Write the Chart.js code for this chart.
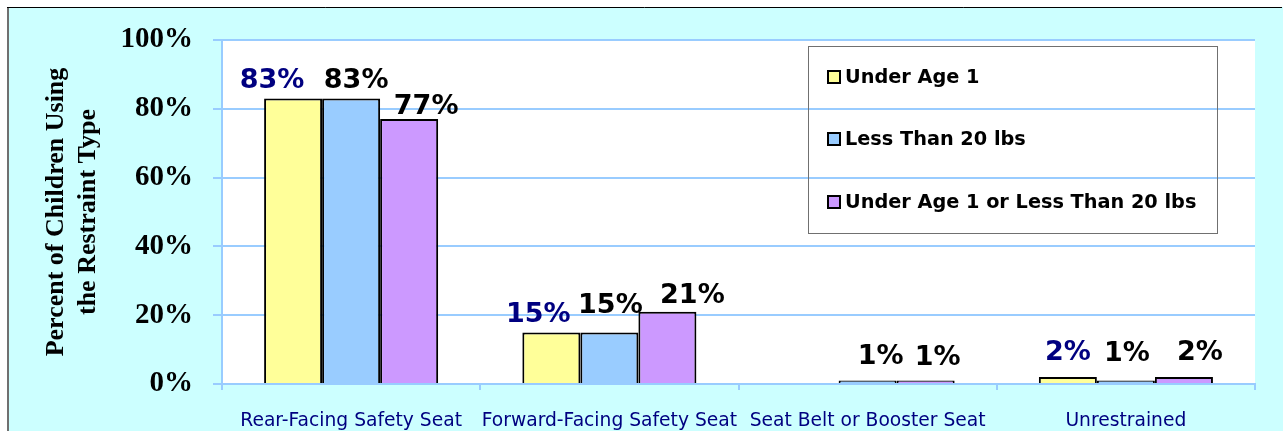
<!DOCTYPE html>
<html><head><meta charset="utf-8">
<script src="https://cdn.jsdelivr.net/npm/chart.js@4"></script>
<style>html,body{margin:0;padding:0;background:#fff;overflow:hidden}</style>
</head><body>
<canvas id="c" width="1283" height="431"></canvas>
<script>
const categories = ['Rear-Facing Safety Seat', 'Forward-Facing Safety Seat', 'Seat Belt or Booster Seat', 'Unrestrained'];
const seriesNames = ['Under Age 1', 'Less Than 20 lbs', 'Under Age 1 or Less Than 20 lbs'];
const underAge1 = [83, 15, null, 2];
const lessThan20lbs = [83, 15, 1, 1];
const ageOrWeight = [77, 21, 1, 2];
const yTickValues = [0, 20, 40, 60, 80, 100];
const yTitle = ['Percent of Children Using', 'the Restraint Type'];

// styling
const colors = ['#FFFF99', '#99CCFF', '#CC99FF'];
const labelColors = ['#000080', '#000000', '#000000'];
const GRID = '#99CCFF';
// manual label nudges [dx, gap above bar] per series / category (as placed in the original)
const labelNudge = [
  [[-21, 10], [-13, 10], [0, 10], [0, 17]],
  [[5, 10], [1, 19], [13, 17], [1, 20]],
  [[17, 5], [25, 9], [12, 16], [16, 17]]
];

const bgPlugin = {
  id: 'bg',
  beforeDraw(chart) {
    const {ctx, width, height, chartArea: a} = chart;
    ctx.save();
    ctx.fillStyle = '#FFFFFF';
    ctx.fillRect(0, 0, width, height);
    ctx.fillStyle = '#CCFFFF';
    ctx.fillRect(7, 7, width - 7, height - 7);
    ctx.fillStyle = '#FFFFFF';
    ctx.fillRect(a.left, a.top, a.right - a.left, a.bottom - a.top);
    ctx.strokeStyle = '#707070';
    ctx.lineWidth = 2;
    ctx.beginPath();
    ctx.moveTo(8, height);
    ctx.lineTo(8, 7);
    ctx.stroke();
    ctx.strokeStyle = '#000000';
    ctx.lineWidth = 1;
    ctx.beginPath();
    ctx.moveTo(7, 7.5);
    ctx.lineTo(width - 1, 7.5);
    ctx.stroke();
    ctx.restore();
  }
};

const labelPlugin = {
  id: 'vlabels',
  afterDatasetsDraw(chart) {
    const {ctx} = chart;
    ctx.save();
    ctx.font = 'bold 27px "DejaVu Sans"';
    ctx.textAlign = 'center';
    ctx.textBaseline = 'alphabetic';
    chart.data.datasets.forEach((ds, i) => {
      const meta = chart.getDatasetMeta(i);
      meta.data.forEach((el, j) => {
        const v = ds.data[j];
        if (v === null || v === undefined) return;
        const [dx, gap] = labelNudge[i][j];
        ctx.fillStyle = labelColors[i];
        ctx.fillText(v + '%', el.x + dx, el.y - gap);
      });
    });
    ctx.restore();
  }
};

const legendPlugin = {
  id: 'boxlegend',
  afterDraw(chart) {
    const {ctx} = chart;
    ctx.save();
    ctx.strokeStyle = '#707070';
    ctx.lineWidth = 1;
    ctx.strokeRect(808.5, 46.5, 409, 187);
    ctx.font = 'bold 19.3px "DejaVu Sans"';
    ctx.textBaseline = 'middle';
    ctx.textAlign = 'left';
    const rows = [77, 139, 202];
    chart.data.datasets.forEach((ds, i) => {
      const y = rows[i];
      ctx.fillStyle = ds.backgroundColor;
      ctx.fillRect(828, y - 6, 12, 12);
      ctx.strokeStyle = '#000';
      ctx.lineWidth = 2;
      ctx.strokeRect(828, y - 6, 12, 12);
      ctx.fillStyle = '#000';
      ctx.fillText(ds.label, 845, y + 1);
    });
    ctx.restore();
  }
};

const datasets = [underAge1, lessThan20lbs, ageOrWeight].map((d, i) => ({
  label: seriesNames[i],
  data: d,
  backgroundColor: colors[i],
  borderColor: '#000000',
  borderWidth: 2,
  borderSkipped: 'bottom',
  barPercentage: 1.0,
  categoryPercentage: 0.674
}));

new Chart(document.getElementById('c'), {
  type: 'bar',
  data: {labels: categories, datasets},
  options: {
    responsive: false,
    animation: false,
    devicePixelRatio: 1,
    layout: {padding: {top: 40, right: 28, left: 0, bottom: 0}},
    plugins: {legend: {display: false}, tooltip: {enabled: false}},
    scales: {
      x: {
        afterFit(s) { s.height = 47; },
        grid: {drawOnChartArea: false, drawTicks: true, tickLength: 6, color: GRID, lineWidth: 2},
        border: {color: GRID, width: 2},
        ticks: {color: '#000080', font: {family: '"DejaVu Sans"', size: 18.7}, padding: 20, maxRotation: 0, autoSkip: false}
      },
      y: {
        min: 0, max: 100,
        afterFit(s) { s.width = 222; },
        afterBuildTicks(s) { s.ticks = yTickValues.map(v => ({value: v})); },
        grid: {color: GRID, lineWidth: 2, tickLength: 9, drawTicks: true},
        border: {color: GRID, width: 2},
        ticks: {
          color: '#000',
          font: {family: '"Liberation Serif"', size: 29, weight: 'bold'},
          padding: 20,
          callback: v => v + '%'
        },
        title: {
          display: true,
          text: yTitle,
          color: '#000',
          font: {family: '"Liberation Serif"', size: 26, weight: 'bold'},
          padding: {top: 41, bottom: 0}
        }
      }
    }
  },
  plugins: [bgPlugin, labelPlugin, legendPlugin]
});
</script>
</body></html>
